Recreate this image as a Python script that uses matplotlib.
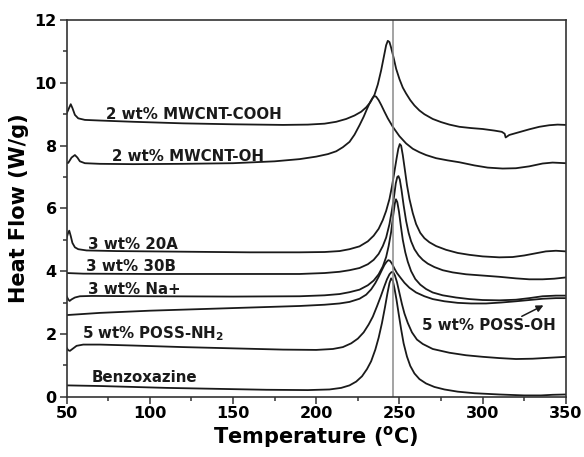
import matplotlib
matplotlib.use('Agg')
import matplotlib.pyplot as plt
from matplotlib.ticker import MultipleLocator

plt.rcParams['font.family'] = ['DejaVu Sans']
plt.rcParams['font.weight'] = 'bold'
plt.rcParams['mathtext.fontset'] = 'dejavusans'

# DSC curves
t_cooh = [50, 51.5, 52.5, 53.5, 55, 57, 61, 70, 90, 120, 150, 180, 195, 205, 212, 218, 223, 227,
          230, 232.5, 235, 237, 239, 240.5, 242, 243, 244, 245, 246.5, 248, 250, 252, 254, 256.5,
          259, 262, 265, 270, 275, 280, 286, 293, 300, 307, 311.5, 313.2, 313.8, 316, 322, 328,
          334, 340, 345, 350]
hf_cooh = [9.02, 9.2, 9.32, 9.2, 8.98, 8.87, 8.82, 8.8, 8.76, 8.71, 8.68, 8.66, 8.67, 8.7, 8.76,
           8.85, 8.96, 9.08, 9.22, 9.38, 9.62, 9.95, 10.4, 10.8, 11.2, 11.34, 11.3, 11.12, 10.8,
           10.45, 10.12, 9.85, 9.66, 9.45, 9.28, 9.12, 9.0, 8.85, 8.75, 8.67, 8.6, 8.56, 8.53,
           8.48, 8.44, 8.38, 8.26, 8.34, 8.43, 8.52, 8.6, 8.65, 8.67, 8.66]

t_oh = [50, 51, 53, 55, 56.5, 58, 61, 70, 90, 120, 150, 175, 190, 200, 207, 212, 216, 220, 223,
        226, 228.5, 230.5, 232.5, 234, 235, 236, 237.5, 239, 241, 243, 246, 250, 254, 258, 262,
        266, 272, 279, 286, 295, 303, 312, 320, 328, 336, 342, 350]
hf_oh = [7.45, 7.45, 7.62, 7.7, 7.62, 7.5, 7.44, 7.42, 7.41, 7.42, 7.44, 7.5, 7.57, 7.65, 7.73,
         7.82, 7.95, 8.12, 8.35, 8.65, 8.92, 9.17, 9.4, 9.53, 9.58, 9.56, 9.45, 9.3, 9.08, 8.87,
         8.6, 8.3, 8.07, 7.9, 7.79, 7.7, 7.6, 7.53, 7.47, 7.37, 7.3, 7.27, 7.28, 7.34, 7.43,
         7.46, 7.44]

t_20a = [50, 50.8, 51.6, 52.5, 53.5, 55, 57, 62, 80, 120, 160, 190, 205, 214, 220, 226, 231,
         234.5, 237.5, 240, 242, 244, 245.5, 247, 248.3, 249.3, 250.2, 251, 252, 253.2, 254.5,
         256, 258, 260, 262.5, 265, 268, 272, 278, 285, 292, 300, 310, 318, 325, 332, 338, 344, 350]
hf_20a = [5.05, 5.2, 5.29, 5.12, 4.9, 4.76, 4.7, 4.66, 4.64, 4.62, 4.6, 4.6, 4.61, 4.64, 4.7,
          4.79, 4.95, 5.13, 5.35, 5.63, 5.92, 6.3, 6.7, 7.18, 7.6, 7.9, 8.05, 8.0, 7.7, 7.25,
          6.75, 6.3, 5.85, 5.5, 5.22, 5.05, 4.92, 4.8, 4.68, 4.58, 4.52, 4.47, 4.44, 4.45, 4.5,
          4.57, 4.63, 4.65, 4.63]

t_30b = [50, 60, 100, 150, 190, 205, 214, 220, 226, 231, 234.5, 237.5, 240, 242, 244, 245.5,
         246.8, 247.8, 248.7, 249.4, 250.2, 251.2, 252.5, 254, 255.5, 257, 259, 261.5, 264, 267,
         271, 276, 282, 290, 300, 310, 320, 328, 336, 343, 350]
hf_30b = [3.94, 3.92, 3.91, 3.91, 3.91, 3.94, 3.98, 4.03, 4.1, 4.22, 4.36, 4.55, 4.8, 5.07, 5.5,
          5.95, 6.4, 6.8, 7.0, 7.03, 6.92, 6.6, 6.1, 5.6, 5.22, 4.95, 4.7, 4.5, 4.36, 4.24, 4.13,
          4.03, 3.96, 3.9, 3.86, 3.82, 3.77, 3.74, 3.74, 3.76, 3.8]

t_na = [50, 51, 51.8, 53, 55, 58, 65, 100, 150, 190, 205, 214, 220, 226, 231, 234.5, 237.5, 240,
        242, 243.5, 245, 246.3, 247.2, 247.9, 248.7, 249.7, 250.8, 252, 253.5, 255, 257, 259.5,
        262.5, 266, 270, 276, 284, 292, 300, 310, 320, 328, 336, 344, 350]
hf_na = [3.2, 3.1, 3.05, 3.1, 3.16, 3.2, 3.21, 3.2, 3.19, 3.2, 3.23, 3.27, 3.33, 3.41, 3.55, 3.7,
         3.9, 4.15, 4.45, 4.8, 5.25, 5.8, 6.15, 6.29, 6.2, 5.9, 5.45, 5.0, 4.6, 4.3, 4.0, 3.75,
         3.57, 3.43, 3.32, 3.23, 3.16, 3.11, 3.08, 3.07, 3.09, 3.14, 3.2, 3.22, 3.22]

t_poss_oh = [50, 70, 100, 130, 160, 190, 205, 214, 220, 226, 230, 233, 235.5, 237.5, 239.5, 241,
             242.3, 243.3, 244.3, 245.5, 247, 248.5, 250.5, 253, 256, 260, 265, 270, 277, 285,
             293, 302, 311, 320, 328, 336, 344, 350]
hf_poss_oh = [2.6, 2.67, 2.74, 2.79, 2.84, 2.89, 2.93, 2.97, 3.02, 3.12, 3.25, 3.42, 3.62, 3.82,
              4.04, 4.2, 4.3, 4.35, 4.33, 4.24, 4.08, 3.94, 3.8, 3.63, 3.47, 3.32, 3.2, 3.11,
              3.04, 2.99, 2.97, 2.97, 3.0, 3.04, 3.08, 3.12, 3.14, 3.14]

t_poss_nh2 = [50, 51, 52, 53.5, 56, 60, 70, 90, 120, 150, 180, 200, 210, 216, 221, 225, 228.5,
              231.5, 234, 236.5, 238.8, 240.8, 242.5, 244, 245.2, 246.2, 247.3, 248.5, 250, 251.5,
              253, 255, 257.5, 260.5, 264, 270, 280, 290, 300, 310, 320, 330, 340, 350]
hf_poss_nh2 = [1.56, 1.48, 1.46, 1.52, 1.62, 1.66, 1.66, 1.63, 1.58, 1.54, 1.5, 1.49, 1.52, 1.58,
               1.7, 1.85, 2.05, 2.3, 2.55, 2.88, 3.2, 3.5, 3.74, 3.9, 3.97, 3.97, 3.86, 3.65, 3.3,
               2.95, 2.65, 2.35, 2.05, 1.82, 1.68, 1.52, 1.4, 1.32, 1.27, 1.23, 1.2, 1.21, 1.24, 1.27]

t_bz = [50, 70, 90, 110, 140, 170, 195, 208, 215, 220, 224, 227.5, 230.5, 233, 235.5, 237.5,
        239.5, 241.3, 242.8, 244, 245, 246, 247, 248.2, 249.5, 251, 252.5, 254.5, 256.5, 259,
        262, 266, 271, 277, 285, 295, 310, 325, 335, 342, 350]
hf_bz = [0.36, 0.34, 0.31, 0.28, 0.25, 0.22, 0.21, 0.23, 0.28, 0.36, 0.48, 0.65, 0.88, 1.13, 1.5,
         1.88, 2.35, 2.85, 3.3, 3.62, 3.77, 3.7, 3.45, 3.1, 2.65, 2.15, 1.7, 1.28, 0.98, 0.74,
         0.56, 0.42, 0.31, 0.23, 0.16, 0.11, 0.07, 0.04, 0.04, 0.06, 0.07]

curves = [(t_cooh, hf_cooh), (t_oh, hf_oh), (t_20a, hf_20a), (t_30b, hf_30b), (t_na, hf_na),
          (t_poss_oh, hf_poss_oh), (t_poss_nh2, hf_poss_nh2), (t_bz, hf_bz)]

peak_line = 246

fig = plt.figure(figsize=(5.84, 4.57), dpi=100)
ax = fig.add_axes([0.114, 0.132, 0.855, 0.824])

for t, hf in curves:
    ax.plot(t, hf, color='#1a1a1a', linewidth=1.3)

ax.axvline(peak_line, color='#8a8a8a', linewidth=1.1)

# curve labels
lab = dict(fontsize=10.8, fontweight='bold', color='#1a1a1a')
ax.text(73.5, 8.84, '2 wt% MWCNT-COOH', va='baseline', **lab)
ax.text(77, 7.52, '2 wt% MWCNT-OH', va='baseline', **lab)
ax.text(62.8, 4.72, '3 wt% 20A', va='baseline', **lab)
ax.text(61.7, 4.0, '3 wt% 30B', va='baseline', **lab)
ax.text(62.8, 3.28, '3 wt% Na+', va='baseline', **lab)
ax.text(59.4, 1.86, r'5 wt% POSS-NH$_\mathbf{2}$', va='baseline', **lab)
ax.text(65, 0.46, 'Benzoxazine', va='baseline', **lab)
ax.text(304, 2.26, '5 wt% POSS-OH', ha='center', va='center', **lab)
ax.annotate('', xy=(338, 2.95), xytext=(322, 2.52),
            arrowprops=dict(arrowstyle='-|>', color='#1a1a1a', lw=1.1, mutation_scale=10))

ax.set_xlim(50, 350)
ax.set_ylim(0, 12)
ax.xaxis.set_major_locator(MultipleLocator(50))
ax.xaxis.set_minor_locator(MultipleLocator(25))
ax.yaxis.set_major_locator(MultipleLocator(2))
ax.yaxis.set_minor_locator(MultipleLocator(1))
ax.tick_params(which='both', direction='out', top=False, right=False,
               color='#333333', width=1.1)
ax.tick_params(which='major', length=5, labelsize=11.5, pad=2)
ax.tick_params(which='minor', length=3)
for lbl in ax.get_xticklabels() + ax.get_yticklabels():
    lbl.set_fontweight('bold')

for sp in ax.spines.values():
    sp.set_color('#333333')
    sp.set_linewidth(1.2)

ax.set_xlabel(r'Temperature ($^\mathbf{o}$C)', fontsize=15, fontweight='bold', labelpad=2)
ax.set_ylabel('Heat Flow (W/g)', fontsize=15, fontweight='bold', labelpad=4)

fig.savefig('out.png', dpi=100)
